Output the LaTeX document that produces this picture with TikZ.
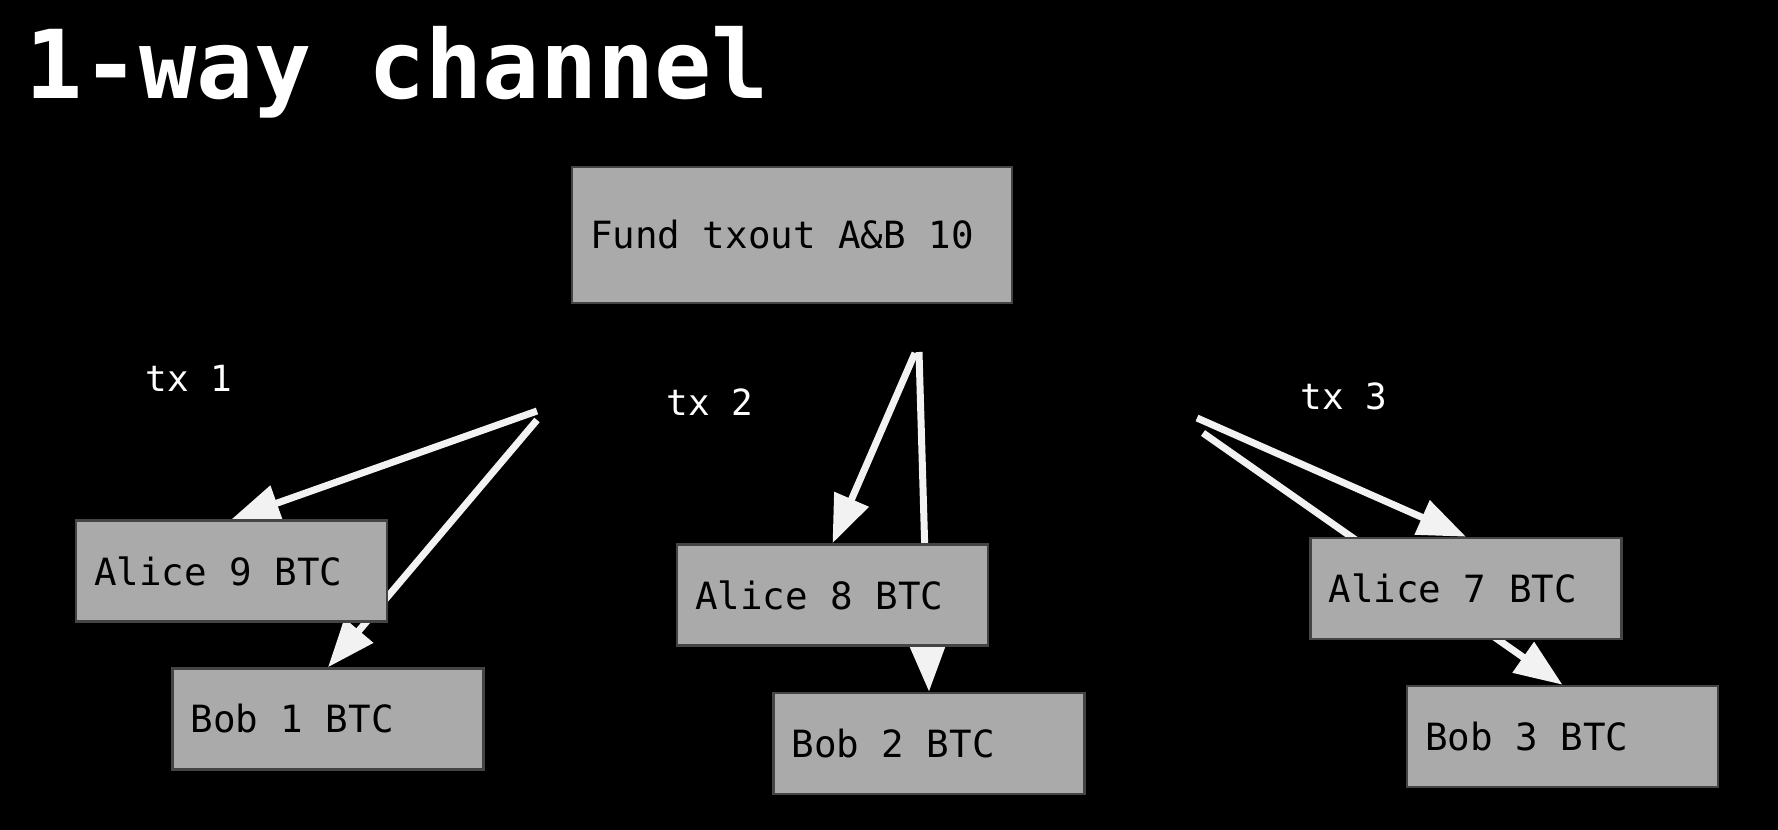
\documentclass[tikz,border=0pt]{standalone}
\usepackage{fontspec}
\setmonofont{DejaVu Sans Mono}
\newfontfamily\boxfont{DejaVu Sans Mono}
\usetikzlibrary{arrows.meta}
\definecolor{boxgray}{HTML}{AAAAAA}
\definecolor{boxedge}{HTML}{444444}
\definecolor{wirewhite}{HTML}{F2F2F2}
\newcommand{\lbox}[2][137.5pt]{\makebox[#1][l]{#2}}
\pgfdeclarelayer{backdrop}
\pgfdeclarelayer{wires}
\pgfsetlayers{backdrop,wires,main}
\tikzset{
    txbox/.style={draw=boxedge, line width=1.25pt, fill=boxgray, text=black,
        font=\boxfont\fontsize{18.75}{22}\selectfont, inner xsep=9pt,
        minimum width=155.5pt, minimum height=50.5pt},
    txlabel/.style={text=white, inner sep=0pt, anchor=base west,
        font=\ttfamily\fontsize{18}{21}\selectfont},
    payarrow/.style={draw=wirewhite, line width=3.5pt,
        -{Triangle[length=24pt,width=18pt]}}
}

\begin{document}
\begin{tikzpicture}[x=0.5pt,y=-0.5pt]
            \useasboundingbox (0,0) rectangle (1778,830);
            \begin{pgfonlayer}{backdrop}
                \fill[black] (0,0) rectangle (1778,830);
            \end{pgfonlayer}
            \node[text=white, inner sep=0pt, anchor=base west, font=\ttfamily\bfseries\fontsize{47.5}{55}\selectfont] (title) at (25,98) {1-way channel};
            \node[txbox, minimum width=220pt, minimum height=68pt] (fund) at (792,235) {\lbox[202pt]{Fund txout A\&B 10}};
            \node[txbox] (alice9) at (231.5,571) {\lbox{Alice 9 BTC}};
            \node[txbox] (bob1) at (328,719) {\lbox{Bob 1 BTC}};
            \node[txbox] (alice8) at (832.5,595) {\lbox{Alice 8 BTC}};
            \node[txbox] (bob2) at (929,743.5) {\lbox{Bob 2 BTC}};
            \node[txbox] (alice7) at (1466,588.5) {\lbox{Alice 7 BTC}};
            \node[txbox] (bob3) at (1562.5,736.5) {\lbox{Bob 3 BTC}};
            \node[txlabel] (lbl1) at (145,391) {tx 1};
            \node[txlabel] (lbl2) at (666,415) {tx 2};
            \node[txlabel] (lbl3) at (1300,409) {tx 3};
            \coordinate (S1a) at (537,411);
            \coordinate (S1b) at (537,420);
            \coordinate (S2a) at (915,353);
            \coordinate (S2b) at (919,352);
            \coordinate (S3a) at (1197,418);
            \coordinate (S3b) at (1203,433);
            \begin{pgfonlayer}{wires}
                \draw[payarrow] (S1a)--(alice9.north);
                \draw[payarrow] (S1b)--(bob1.north);
                \draw[payarrow] (S2a)--(alice8.north);
                \draw[payarrow] (S2b)--(bob2.north);
                \draw[payarrow] (S3a)--(alice7.north);
                \draw[payarrow] (S3b)--(bob3.north);
            \end{pgfonlayer}
        \end{tikzpicture}
\end{document}
